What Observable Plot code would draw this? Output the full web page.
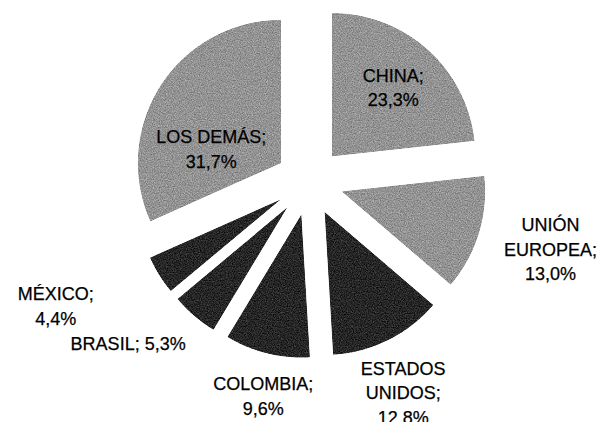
<!DOCTYPE html>
<html><head><meta charset="utf-8">
<script src="https://cdn.jsdelivr.net/npm/d3@7"></script>
<script src="https://cdn.jsdelivr.net/npm/@observablehq/plot@0.6"></script>
<style>html,body{margin:0;padding:0;background:#fff;}</style>
</head><body><div id="chart"></div>
<script>
// ---- data ----
const categories = ["CHINA", "UNIÓN EUROPEA", "ESTADOS UNIDOS", "COLOMBIA", "BRASIL", "MÉXICO", "LOS DEMÁS"];
const shares = [23.3, 13.0, 12.8, 9.6, 5.3, 4.4, 31.7];
const labelNames = ["CHINA;", "UNIÓN\nEUROPEA;", "ESTADOS\nUNIDOS;", "COLOMBIA;", "BRASIL;", "MÉXICO;", "LOS DEMÁS;"];
const labelSeparators = ["\n", "\n", "\n", "\n", " ", "\n", "\n"];
const shades = ["light", "light", "dark", "dark", "dark", "dark", "light"];

// ---- layout (style, not data) ----
const W = 600, H = 422;
const cx = 309, cy = 181, R = 143, explode = 34;
// label placement: [angle shift in degrees from slice middle, distance from pie centre]
const labelPolar = [[-0.7, 127], [-1.8, 250], [2.4, 230], [-1.6, 218], [7.9, 242], [6, 282], [-14, 104]];

const rows = categories.map((c, i) => ({name: c, value: shares[i], shade: shades[i], i}));
const arcs = d3.pie().sort(null).value(d => d.value)(rows);

const polys = [];
const labels = [];
const deg = Math.PI / 180;
arcs.forEach(a => {
  const m = (a.startAngle + a.endAngle) / 2;
  const ax = cx + explode * Math.sin(m), ay = cy - explode * Math.cos(m);
  polys.push({name: a.data.name, shade: a.data.shade, x: ax, y: ay});
  const n = Math.max(4, Math.ceil((a.endAngle - a.startAngle) / (0.5 * deg)));
  for (let k = 0; k <= n; k++) {
    const t = a.startAngle + (a.endAngle - a.startAngle) * k / n;
    polys.push({name: a.data.name, shade: a.data.shade, x: ax + R * Math.sin(t), y: ay - R * Math.cos(t)});
  }
  const i = a.data.i;
  const [sh, dist] = labelPolar[i];
  const la = m + sh * deg;
  labels.push({
    text: labelNames[i] + labelSeparators[i] + a.data.value.toFixed(1).replace(".", ",") + "%",
    x: cx + dist * Math.sin(la), y: cy - dist * Math.cos(la)
  });
});

const chart = Plot.plot({
  width: W, height: H,
  marginTop: 0, marginRight: 0, marginBottom: 0, marginLeft: 0,
  x: {domain: [0, W], axis: null},
  y: {domain: [H, 0], axis: null},
  color: {domain: ["light", "dark"], range: ["#939393", "#262626"]},
  style: {background: "#fff", fontFamily: "'Liberation Sans', Arial, sans-serif"},
  marks: [
    Plot.line(polys, {x: "x", y: "y", z: "name", fill: "shade", stroke: "none", curve: "linear-closed"}),
    Plot.text(labels, {x: "x", y: "y", text: "text", fontSize: 18, lineHeight: 1.36, fill: "#000", stroke: "#000", strokeWidth: 0.25, textAnchor: "middle", lineAnchor: "middle"})
  ]
});

// scanned-halftone grain on the slices
const ns = "http://www.w3.org/2000/svg";
const defs = document.createElementNS(ns, "defs");
defs.innerHTML = `
<filter id="grain" x="0" y="0" width="100%" height="100%" color-interpolation-filters="sRGB">
  <feTurbulence type="fractalNoise" baseFrequency="0.85" numOctaves="2" seed="7" result="noise"/>
  <feColorMatrix in="noise" type="matrix" values="1 0 0 0 0  1 0 0 0 0  1 0 0 0 0  0 0 0 0 1" result="gray"/>
  <feComposite in="SourceGraphic" in2="gray" operator="arithmetic" k1="0" k2="1" k3="0.45" k4="-0.225" result="mix"/>
  <feComposite in="mix" in2="SourceGraphic" operator="in"/>
</filter>`;
chart.insertBefore(defs, chart.firstChild);
const lineGroup = chart.querySelector('g[aria-label="line"]');
if (lineGroup) lineGroup.setAttribute("filter", "url(#grain)");
document.getElementById("chart").appendChild(chart);
</script>
</body></html>
